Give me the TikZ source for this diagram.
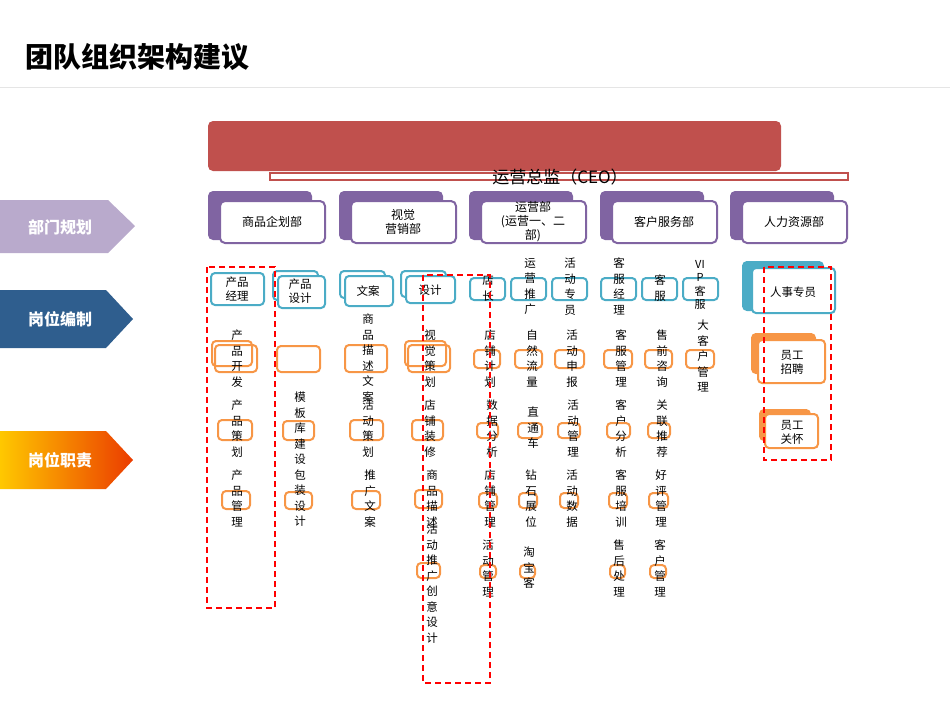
\documentclass[tikz,border=0pt]{standalone}
\usepackage{fontspec}
\setmainfont{Noto Sans CJK SC}
\usetikzlibrary{shapes.arrows,shapes.symbols}
\definecolor{ppl}{HTML}{8064A2}
\definecolor{blu}{HTML}{4BACC6}
\definecolor{org}{HTML}{F79646}
\definecolor{rd}{HTML}{C0504D}
\definecolor{navy}{HTML}{2F5E8E}
\tikzset{
 bbox/.style={draw=blu,line width=2pt,rounded corners=4pt,fill=white},
 obox/.style={draw=org,line width=2pt,rounded corners=4pt},
 vt/.style={anchor=north,align=center,inner sep=0pt,font=\fontsize{11.5}{15.5}\selectfont},
 lbl/.style={align=center,inner sep=0pt,font=\fontsize{11.5}{14}\selectfont},
 rdash/.style={draw=red,line width=2pt,dash pattern=on 6pt off 4pt},
 sidearrow/.style={inner sep=0pt,text=white,font=\bfseries\fontsize{16}{18}\selectfont}
}
\begin{document}
\begin{tikzpicture}[x=1pt,y=-1pt]
\useasboundingbox (0,0) rectangle (950,713);
\node[anchor=west,font=\bfseries\fontsize{28}{30}\selectfont] (title) at (22,57) {团队组织架构建议};
\draw[gray!20] (0,87) -- (950,87);
% CEO
\fill[rd,rounded corners=5pt] (208,121) rectangle (781,171);
\draw[rd,line width=1.2pt,fill=white] (270,173) rectangle (848,180);
\node[font=\fontsize{17}{19}\selectfont] (ceo) at (560,177) {运营总监（CEO）};
% side arrows
\fill[ppl!55] (0,200) -- (108,200) -- (135,226) -- (108,253) -- (0,253) -- cycle;
\node[sidearrow] (s1) at (60,227) {部门规划};
\fill[navy] (0,290) -- (106,290) -- (133,319) -- (106,348) -- (0,348) -- cycle;
\node[sidearrow] (s2) at (60,319) {岗位编制};
\shade[left color={rgb,255:red,255;green,200;blue,0},right color={rgb,255:red,235;green,60;blue,0}] (0,431) -- (106,431) -- (133,460) -- (106,489) -- (0,489) -- cycle;
\node[sidearrow] (s3) at (60,460) {岗位职责};
% departments
\foreach \x/\t [count=\i] in {208/商品企划部,339/{视觉\\营销部},469/{运营部\\(运营一、二\\部)},600/客户服务部,730/人力资源部}{
 \fill[ppl,rounded corners=5pt] (\x,191) rectangle (\x+104,240);
 \draw[ppl,line width=2pt,fill=white,rounded corners=5pt] (\x+12,201) rectangle (\x+117,243);
 \node[lbl,font=\fontsize{12}{14}\selectfont] (d\i) at (\x+64,222) {\t};
}
% position boxes
\draw[bbox] (211,273) rectangle (264,305); \node[lbl] (p1) at (237,289) {产品\\经理};
\draw[bbox] (273,271) rectangle (318,300); \draw[bbox] (278,276) rectangle (325,308); \node[lbl] (p2) at (300,291) {产品\\设计};
\draw[bbox] (340,271) rectangle (385,298); \draw[bbox] (345,276) rectangle (393,306); \node[lbl] (p3) at (368,291) {文案};
\draw[bbox] (401,271) rectangle (446,297); \draw[bbox] (406,276) rectangle (455,303); \node[lbl] (p4) at (430,290) {设计};
\foreach \x in {470,511,552,601,642,683}{\draw[bbox,fill=none] (\x,278) rectangle (\x+35,300);}
\node[vt] (p5) at (488,275) {店\\长};
\node[vt] (p6) at (530,258) {运\\营\\推\\广};
\node[vt] (p7) at (570,258) {活\\动\\专\\员};
\node[vt] (p8) at (619,258) {客\\服\\经\\理};
\node[vt] (p9) at (660,275) {客\\服};
\node[vt,font=\fontsize{11}{13.5}\selectfont] (p10) at (700,260) {VI\\P\\客\\服};
\draw[bbox,fill=blu] (743,262) rectangle (823,310); \draw[bbox] (752,268) rectangle (835,313);
\node[lbl] (p11) at (793,292) {人事专员};
% orange boxes
\foreach \a/\b/\c/\d in {215/345/257/372,218/420/252/440,222/491/250/509,
 277/346/320/372,283/421/314/440,285/492/312/509,
 345/345/387/372,350/420/383/440,352/491/380/509,
 408/345/450/372,412/420/443/440,415/490/442/508,417/563/440/578,
 474/350/500/368,477/423/498/438,479/493/497/508,480/565/496/578,
 515/350/542/368,518/423/542/438,519/493/537/508,520/565/535/578,
 555/350/584/368,558/423/580/438,560/493/578/508,
 604/350/632/368,607/423/630/438,609/493/627/508,610/565/625/578,
 645/350/672/368,648/423/670/438,649/493/668/508,650/565/666/578,
 686/350/714/368}{\draw[obox] (\a,\b) rectangle (\c,\d);}
\draw[obox] (212,341) rectangle (252,366);
\draw[obox] (405,341) rectangle (446,366);
\draw[obox,fill=org] (752,334) rectangle (815,373); \draw[obox,fill=white] (758,340) rectangle (825,383);
\node[lbl] (h1) at (792,362) {员工\\招聘};
\draw[obox,fill=org] (760,410) rectangle (810,440); \draw[obox,fill=white] (765,414) rectangle (818,448);
\node[lbl] (h2) at (792,432) {员工\\关怀};
% duty texts
\node[vt] (t1) at (237,330) {产\\品\\开\\发};
\node[vt] (t2) at (237,400) {产\\品\\策\\划};
\node[vt] (t3) at (237,470) {产\\品\\管\\理};
\node[vt] (t4) at (300,392) {模\\板\\库\\建\\设\\包\\装\\设\\计};
\node[vt] (t5) at (368,314) {商\\品\\描\\述\\文\\案};
\node[vt] (t6) at (368,400) {活\\动\\策\\划};
\node[vt] (t7) at (370,470) {推\\广\\文\\案};
\node[vt] (t8) at (430,330) {视\\觉\\策\\划};
\node[vt] (t9) at (430,400) {店\\铺\\装\\修};
\node[vt] (t10) at (432,470) {商\\品\\描\\述};
\node[vt] (t11) at (432,524) {活\\动\\推\\广\\创\\意\\设\\计};
\node[vt] (t12) at (490,330) {店\\铺\\计\\划};
\node[vt] (t13) at (492,400) {数\\据\\分\\析};
\node[vt] (t14) at (490,470) {店\\铺\\管\\理};
\node[vt] (t15) at (488,540) {活\\动\\管\\理};
\node[vt] (t16) at (532,330) {自\\然\\流\\量};
\node[vt] (t17) at (533,407) {直\\通\\车};
\node[vt] (t18) at (531,470) {钻\\石\\展\\位};
\node[vt] (t19) at (529,547) {淘\\宝\\客};
\node[vt] (t20) at (572,330) {活\\动\\申\\报};
\node[vt] (t21) at (573,400) {活\\动\\管\\理};
\node[vt] (t22) at (572,470) {活\\动\\数\\据};
\node[vt] (t23) at (621,330) {客\\服\\管\\理};
\node[vt] (t24) at (621,400) {客\\户\\分\\析};
\node[vt] (t25) at (621,470) {客\\服\\培\\训};
\node[vt] (t26) at (619,540) {售\\后\\处\\理};
\node[vt] (t27) at (662,330) {售\\前\\咨\\询};
\node[vt] (t28) at (662,400) {关\\联\\推\\荐};
\node[vt] (t29) at (661,470) {好\\评\\管\\理};
\node[vt] (t30) at (660,540) {客\\户\\管\\理};
\node[vt] (t31) at (703,320) {大\\客\\户\\管\\理};
% dashed highlights
\draw[rdash] (207,267) rectangle (275,608);
\draw[rdash] (423,275) rectangle (490,683);
\draw[rdash] (764,267) rectangle (831,460);
\end{tikzpicture}
\end{document}
